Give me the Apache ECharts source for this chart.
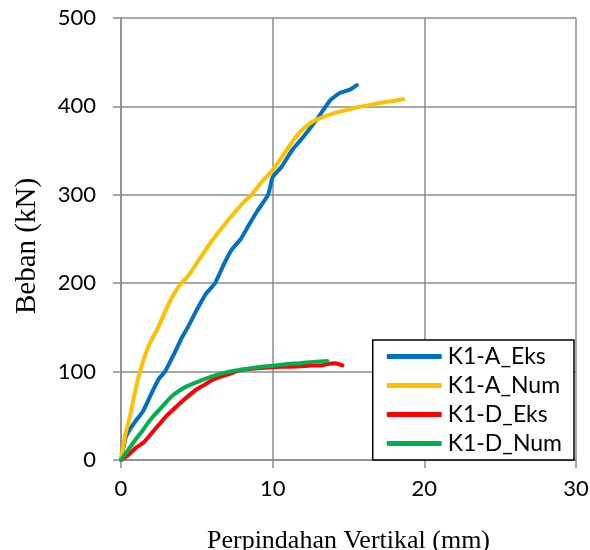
<!DOCTYPE html>
<html>
<head>
<meta charset="utf-8">
<script src="https://cdn.jsdelivr.net/npm/echarts@6/dist/echarts.min.js"></script>
<style>
  html, body { margin: 0; padding: 0; background: #fff; }
  #chart { width: 590px; height: 550px; }
</style>
</head>
<body>
<div id="chart"></div>
<script>
// displacement (mm), load (kN)
const a_eks = [
  [0, 0], [0.3, 25], [0.6, 35], [1.0, 45], [1.45, 55], [2.0, 75], [2.5, 92], [2.9, 100],
  [3.5, 120], [4.0, 138], [4.4, 150], [5.0, 170], [5.6, 188], [6.2, 200], [6.8, 222],
  [7.3, 238], [7.9, 250], [8.4, 265], [9.0, 282], [9.7, 300], [10.0, 320], [10.6, 332],
  [11.3, 351], [12.0, 365], [12.9, 385], [13.3, 395], [13.8, 407], [14.4, 415],
  [15.1, 419], [15.55, 424]
];
const a_num = [
  [0, 0], [0.3, 30], [0.6, 50], [0.9, 75], [1.25, 100], [1.8, 128], [2.45, 150],
  [3.1, 175], [3.75, 195], [4.5, 210], [5.2, 228], [6.0, 248], [7.0, 270], [8.0, 290],
  [8.6, 300], [9.3, 315], [10.0, 328], [10.7, 345], [11.3, 360], [11.8, 371],
  [12.4, 380], [12.9, 385], [13.8, 391], [15.1, 397], [16.5, 402], [18.6, 408]
];
const d_eks = [
  [0, 0], [0.5, 6], [1.0, 14], [1.5, 20], [2.0, 30], [2.5, 40], [3.0, 50], [3.5, 58],
  [4.0, 66], [4.55, 74], [5.0, 80], [5.5, 85], [6.07, 91], [6.7, 95], [7.4, 99],
  [8.0, 102], [8.5, 103], [9.2, 104], [10.0, 105], [11.0, 105.5], [11.8, 106],
  [12.5, 107], [13.2, 107], [13.6, 108.5], [14.1, 109.5], [14.6, 107]
];
const d_num = [
  [0, 0], [0.5, 12], [1.0, 24], [1.45, 34], [2.0, 47], [2.7, 60], [3.34, 72], [3.8, 78],
  [4.3, 83], [5.0, 88], [5.9, 94], [6.8, 98.5], [7.85, 102], [9.0, 105], [10.0, 106.7],
  [11.0, 108.5], [11.8, 109.5], [12.7, 111], [13.6, 112]
];
const names = ['K1-A_Eks', 'K1-A_Num', 'K1-D_Eks', 'K1-D_Num'];
const colors = ['#0070C0', '#FFC000', '#FF0000', '#00B050'];

const gridColor = '#8c8c8c';
const labelFont = 'Lato, "Open Sans", sans-serif';
const nameFont = '"Liberation Serif", serif';

const chart = echarts.init(document.getElementById('chart'));

function line (name, data, color, smooth) {
  return {
    name: name,
    type: 'line',
    data: data,
    symbol: 'none',
    smooth: smooth,
    lineStyle: { color: color, width: 4, cap: 'round', join: 'round' },
    itemStyle: { color: color },
    animation: false
  };
}

chart.setOption({
  backgroundColor: '#fff',
  grid: { left: 121, right: 14, top: 18, bottom: 90, outerBoundsMode: 'none' },
  legend: {
    orient: 'vertical',
    right: 16,
    bottom: 90,
    data: names,
    icon: 'roundRect',
    itemWidth: 55,
    itemHeight: 5,
    itemGap: 6,
    padding: [5, 12, 5, 14],
    borderColor: '#000',
    borderWidth: 1.5,
    borderRadius: 0,
    backgroundColor: '#fff',
    textStyle: { fontFamily: labelFont, fontSize: 23, color: '#000', padding: [0, 0, 0, 1] }
  },
  xAxis: {
    type: 'value',
    min: 0,
    max: 30,
    interval: 10,
    name: 'Perpindahan Vertikal (mm)',
    nameLocation: 'middle',
    nameGap: 68,
    nameTextStyle: { fontFamily: nameFont, fontSize: 26, color: '#000' },
    axisLine: { show: true, lineStyle: { color: gridColor, width: 1.5 } },
    axisTick: { show: true, length: 8, lineStyle: { color: gridColor, width: 1.5 } },
    axisLabel: { fontFamily: labelFont, fontSize: 22, color: '#000', margin: 18 },
    splitLine: { show: true, lineStyle: { color: gridColor, width: 1.5 } }
  },
  yAxis: {
    type: 'value',
    min: 0,
    max: 500,
    interval: 100,
    name: 'Beban (kN)',
    nameLocation: 'middle',
    nameGap: 79,
    nameTextStyle: { fontFamily: nameFont, fontSize: 29, color: '#000', padding: [0, 14, 0, 0] },
    axisLine: { show: true, lineStyle: { color: gridColor, width: 1.5 } },
    axisTick: { show: true, length: 8, lineStyle: { color: gridColor, width: 1.5 } },
    axisLabel: { fontFamily: labelFont, fontSize: 22, color: '#000', margin: 25 },
    splitLine: { show: true, lineStyle: { color: gridColor, width: 1.5 } }
  },
  series: [
    line(names[0], a_eks, colors[0], 0.15),
    line(names[1], a_num, colors[1], 0.4),
    line(names[2], d_eks, colors[2], 0.2),
    line(names[3], d_num, colors[3], 0.4)
  ]
});
</script>
</body>
</html>
